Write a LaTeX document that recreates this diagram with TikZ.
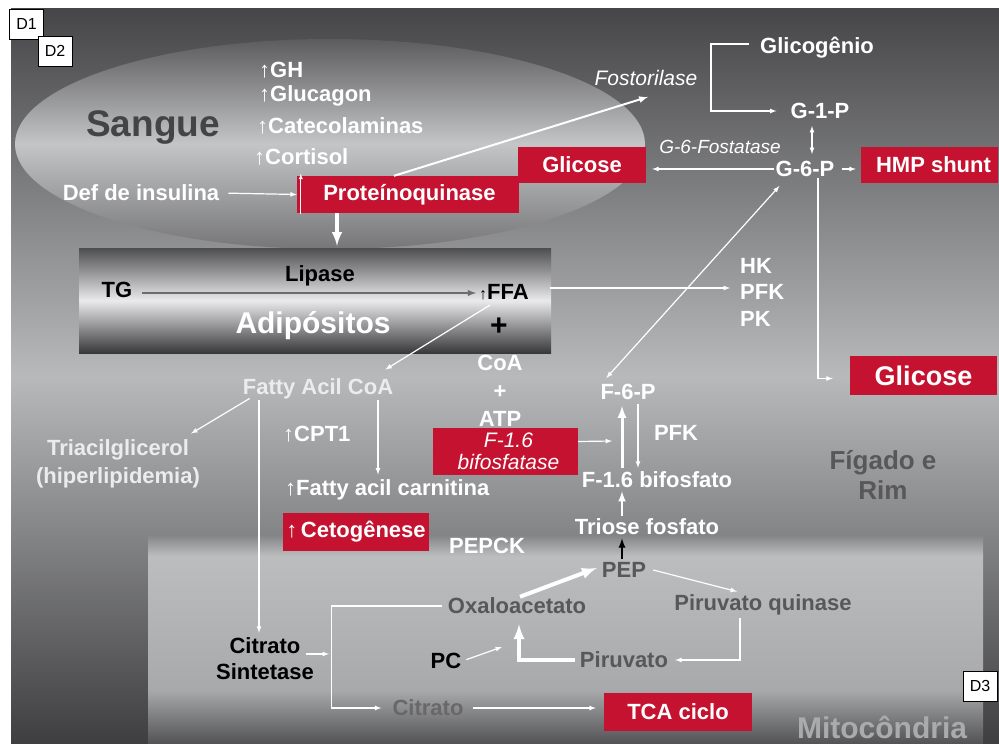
\documentclass[tikz,border=0pt]{standalone}
\usepackage{fontspec}
\setmainfont{Liberation Sans}
\usetikzlibrary{arrows}

\definecolor{kred}{RGB}{196,18,48}
\definecolor{klight}{RGB}{236,236,236}
\definecolor{kdark}{RGB}{88,88,90}
\definecolor{kgrey}{RGB}{104,104,106}
\definecolor{bgtop}{RGB}{70,70,72}
\definecolor{bgmid}{RGB}{184,185,187}
\definecolor{bgbot}{RGB}{62,62,64}
\definecolor{eltop}{RGB}{92,92,94}
\definecolor{elmid}{RGB}{196,197,199}
\definecolor{elbot}{RGB}{118,118,120}
\definecolor{adtop}{RGB}{78,78,80}
\definecolor{admid}{RGB}{234,234,236}
\definecolor{adbot}{RGB}{56,56,58}
\definecolor{mitoband}{RGB}{134,135,137}
\definecolor{mitotop}{RGB}{188,189,191}
\definecolor{mitomid}{RGB}{168,169,171}
\definecolor{mitobot}{RGB}{82,82,84}
\definecolor{mitotxt}{RGB}{170,171,173}
\definecolor{sangtxt}{RGB}{68,68,70}

\begin{document}
\begin{tikzpicture}[x=1pt, y=-1pt, >=latex,
  lbl/.style={text=white, font=\fontsize{22}{28}\selectfont\bfseries, inner sep=1pt, align=center},
  dlbl/.style={lbl, text=kdark},
  blbl/.style={lbl, text=black},
  ital/.style={text=white, font=\fontsize{21}{22}\selectfont\itshape, inner sep=1pt, align=center},
  redbox/.style={fill=kred, text=white, font=\fontsize{22}{26}\selectfont\bfseries, inner sep=0pt},
  tag/.style={draw=black, fill=white, line width=0.8pt, font=\fontsize{16}{16}\selectfont, minimum width=34pt, minimum height=30pt, inner sep=0pt},
  wline/.style={draw=white, line width=1.2pt, ->},
  fat/.style={draw=white, line width=3.6pt, ->}]

\useasboundingbox (0,0) rectangle (999,744);

%slide background and the three compartments
\shade[top color=bgtop, bottom color=bgbot, middle color=bgmid] (11,8) rectangle (999,744);
\shade[top color=eltop, bottom color=elbot, middle color=elmid] (330,144) ellipse (315 and 105);
\shade[top color=mitoband, bottom color=mitotop] (148,536) rectangle (983,556);
\shade[top color=mitotop, bottom color=mitomid] (148,556) rectangle (983,690);
\shade[top color=mitomid, bottom color=mitobot] (148,690) rectangle (983,744);
\node[top color=adtop, bottom color=adbot, middle color=admid, minimum width=472pt, minimum height=105pt, inner sep=0pt] (adipo) at (315,300.5) {};

%blood
\node[font=\fontsize{37}{37}\selectfont\bfseries, text=sangtxt] (sangue) at (153,128) {Sangue};
\node[lbl, anchor=west] (gh) at (258,70) {{\mdseries ↑}GH};
\node[lbl, anchor=west] (glucagon) at (258,96) {{\mdseries ↑}Glucagon};
\node[lbl, anchor=west] (catecol) at (256,126) {{\mdseries ↑}Catecolaminas};
\node[lbl, anchor=west] (cortisol) at (253,157) {{\mdseries ↑}Cortisol};
\node[lbl] (insul) at (141,193) {Def de insulina};
\node[redbox, minimum width=222pt, minimum height=37pt] (pq) at (408,194.5) {\hspace{3pt}Proteínoquinase};
\node[redbox, minimum width=128pt, minimum height=36pt] (glc1) at (582,165) {Glicose};
\node[ital] (fost) at (646,78) {Fostorilase};

%liver side
\node[lbl] (glico) at (817,48) {Glicogênio};
\node[lbl] (g1p) at (820,111) {G-1-P};
\node[lbl] (g6p) at (805,169) {G-6-P};
\node[ital, font=\fontsize{19}{19}\selectfont\itshape] (g6f) at (720,147) {G-6-Fostatase};
\node[redbox, minimum width=137pt, minimum height=36pt] (hmp) at (929.5,165) {\hspace{8pt}HMP shunt};
\node[redbox, minimum width=147pt, minimum height=39pt, font=\fontsize{27}{27}\selectfont\bfseries] (glc2) at (923.5,375.5) {Glicose};
\node[lbl, anchor=west, font=\fontsize{22}{26.5}\selectfont\bfseries, align=left] (hk) at (739,292) {HK\\PFK\\PK};
\node[dlbl, font=\fontsize{26}{30}\selectfont\bfseries] (figado) at (883,475) {Fígado e\\Rim};

%adipocytes
\node[blbl] (tg) at (117,290) {TG};
\node[blbl] (lip) at (320,276) {Lipase};
\node[blbl] (ffa) at (504,292) {{\mdseries\fontsize{16}{16}\selectfont ↑}FFA};
\node[blbl, font=\fontsize{30}{30}\selectfont\bfseries] (plus) at (499,327) {+};
\node[font=\fontsize{30}{30}\selectfont\bfseries, text=white] (adtxt) at (313,326) {Adipósitos};

%fatty acids and gluconeogenesis
\node[lbl, text=klight] (facoa) at (318,389) {Fatty Acil CoA};
\node[lbl, text=klight] (tri) at (118,464) {Triacilglicerol\\(hiperlipidemia)};
\node[lbl, anchor=west] (cpt) at (282,434) {{\mdseries ↑}CPT1};
\node[lbl, anchor=west] (carn) at (284,490) {{\mdseries ↑}Fatty acil carnitina};
\node[redbox, minimum width=146pt, minimum height=38pt] (ceto) at (356,532) {{\mdseries ↑}\,Cetogênese};
\node[lbl] (coa) at (500,391) {CoA\\+\\ATP};
\node[redbox, minimum width=145pt, minimum height=47pt, font=\fontsize{21}{22}\selectfont\itshape, align=center] (f16b) at (505.5,451.5) {\hspace{6pt}F-1.6\\\hspace{6pt}bifosfatase};
\node[lbl] (f6p) at (628,392) {F-6-P};
\node[lbl] (pfk) at (676,433) {PFK};
\node[lbl] (f16) at (657,480) {F-1.6 bifosfato};
\node[lbl] (triose) at (647,527) {Triose fosfato};
\coordinate (pfkin) at (612,441);

%mitochondria
\node[lbl] (pepck) at (487,546) {PEPCK};
\node[dlbl] (pep) at (624,570) {PEP};
\node[dlbl] (oxa) at (517,606) {Oxaloacetato};
\node[dlbl] (pk) at (763,605) {Piruvato quinase};
\node[dlbl] (piru) at (624,660) {Piruvato};
\node[blbl] (pc) at (446,661) {PC};
\node[dlbl, text=kgrey] (citr) at (428,708) {Citrato};
\node[blbl, font=\fontsize{22}{26}\selectfont\bfseries] (cs) at (265,659) {Citrato\\Sintetase};
\node[redbox, minimum width=148pt, minimum height=38pt] (tca) at (678,712) {TCA ciclo};
\node[lbl, text=mitotxt, font=\fontsize{30}{30}\selectfont\bfseries] (mito) at (882,727) {Mitocôndria};
\coordinate (pcin) at (502,647);
\coordinate (csin) at (329,654);

%connectors in the blood
\draw[wline, shorten <=8pt] (insul.east) -- (pq.west);
\draw[->, white, line width=0.8pt] ([xshift=4pt, yshift=-1pt]pq.south west) -- ([xshift=4pt, yshift=2pt]pq.north west);
\draw[fat, shorten >=2pt] ([xshift=-71pt]pq.south) -- ([xshift=-71pt]pq.south |- adipo.north);
\draw[wline, line width=2pt] ([xshift=-14pt]pq.north) -- ([xshift=2pt, yshift=-10pt]fost.south);

%connectors in the liver
\draw[wline, shorten <=10pt, shorten >=13pt] ([yshift=4pt]glico.west) -- ++(-48,0) |- (g1p.west);
\draw[wline, <->, shorten <=6pt, shorten >=6pt] ([xshift=-8pt]g1p.south) -- ([xshift=-8pt]g1p.south |- g6p.north);
\draw[wline, shorten >=6pt] (g6p.west) -- (g6p.west -| glc1.east);
\draw[wline, shorten <=6pt, shorten >=5pt] (g6p.east) -- (g6p.east -| hmp.west);
\draw[wline, shorten >=17pt] ([xshift=13pt]g6p.south) |- ([yshift=-3pt]glc2.west);
\draw[wline, <->] ([xshift=7pt, yshift=5pt]f6p.north west) -- ([xshift=5pt, yshift=-8pt]g6p.south west);

%connectors from the adipocytes
\draw[->, draw=gray!85!black, line width=1.8pt, shorten <=9pt, shorten >=2pt] ([yshift=-3pt]tg.east) -- ([yshift=-3pt]tg.east -| ffa.west);
\draw[wline, shorten <=20pt, shorten >=9pt] ([yshift=4pt]ffa.east) -- ([yshift=4pt]ffa.east -| hk.west);
\draw[wline] ([xshift=12pt, yshift=-4pt]ffa.south west) -- ([xshift=-9pt, yshift=8pt]facoa.north east);
\draw[wline] ([xshift=8pt, yshift=2pt]facoa.south west) -- ([xshift=-10pt, yshift=5pt]tri.north east);
\draw[wline, shorten >=4pt] ([xshift=-59pt]facoa.south) -- ([xshift=-59pt]facoa.south |- cs.north);
\draw[wline, shorten >=4pt] ([xshift=60pt]facoa.south) -- ([xshift=60pt]facoa.south |- carn.north);

%gluconeogenesis connectors
\draw[wline] ([yshift=10pt]f16b.east) -- (pfkin);
\draw[fat, line width=3pt, shorten <=3pt, shorten >=5pt] ([xshift=-35pt]f16.north) -- ([xshift=-6pt]f6p.south);
\draw[wline, shorten <=3pt, shorten >=3pt] ([xshift=10pt]f6p.south) -- ([xshift=-19pt]f16.north);
\draw[fat, line width=2.4pt, shorten <=2pt, shorten >=2pt] ([xshift=-25pt]triose.north) -- ([xshift=-35pt]f16.south);
\draw[->, draw=black, line width=2.2pt, shorten <=2pt, shorten >=2pt] ([xshift=-2pt]pep.north) -- ([xshift=-25pt]triose.south);

%connectors in the mitochondria
\draw[fat, line width=4pt] ([xshift=3pt]oxa.north) -- ([xshift=-4pt, yshift=2pt]pep.west);
\draw[wline] ([xshift=6pt]pep.east) -- ([xshift=-26pt, yshift=2pt]pk.north);
\draw[wline, shorten <=2pt] ([xshift=-23pt]pk.south) |- ([xshift=6pt]piru.east);
\draw[fat, line width=4pt, shorten <=4pt, shorten >=9pt] (piru.west) -| ([xshift=2pt]oxa.south);
\draw[wline, shorten <=4pt] (pc.east) -- (pcin);
\draw[wline, shorten <=5pt, shorten >=10pt] (oxa.west) -- ++(-115,0) |- (citr.west);
\draw[wline] ([xshift=-9pt, yshift=5pt]cs.east) -- (csin);
\draw[wline, shorten <=8pt, shorten >=8pt] (citr.east) -- (citr.east -| tca.west);

%slide tags
\node[tag] (d1) at (26.5,24) {D1};
\node[tag] (d2) at (55,51) {D2};
\node[tag] (d3) at (980,686) {D3};

\end{tikzpicture}
\end{document}
